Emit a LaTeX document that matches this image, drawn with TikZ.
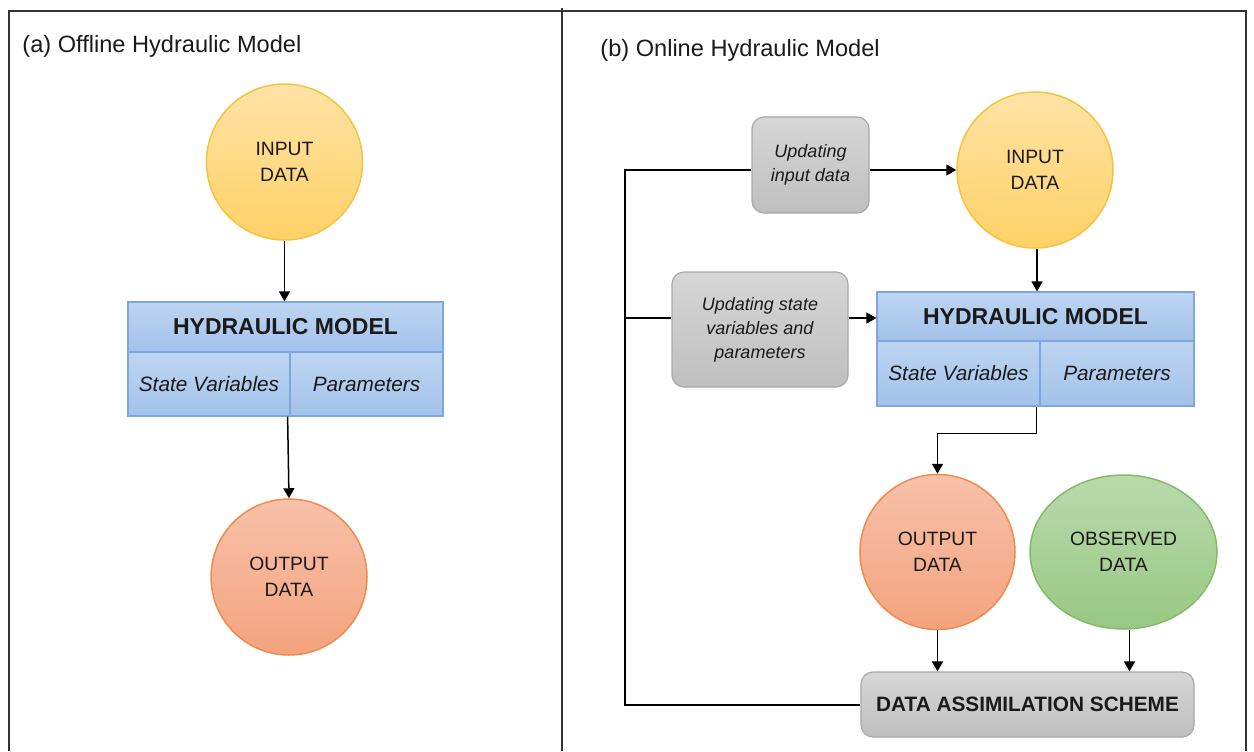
\documentclass[tikz,border=0pt]{standalone}
\usepackage{fontspec}
\setmainfont{Liberation Sans}
\usetikzlibrary{arrows.meta,shapes.geometric}
\definecolor{yTop}{HTML}{FFE3A6}
\definecolor{yBot}{HTML}{FFD166}
\definecolor{yDraw}{HTML}{F5C242}
\definecolor{oTop}{HTML}{F7C1A9}
\definecolor{oBot}{HTML}{F4A37E}
\definecolor{oDraw}{HTML}{EE8B4E}
\definecolor{gTop}{HTML}{B9DAAC}
\definecolor{gBot}{HTML}{98C883}
\definecolor{gDraw}{HTML}{84BA6A}
\definecolor{bTop}{HTML}{BDD5F1}
\definecolor{bBot}{HTML}{A3C2EA}
\definecolor{bDraw}{HTML}{7EA6E0}
\definecolor{kTop}{HTML}{D6D6D6}
\definecolor{kBot}{HTML}{BFBFBF}
\definecolor{kDraw}{HTML}{A8A8A8}
\definecolor{frameC}{HTML}{333333}
\definecolor{txt}{HTML}{1A1A1A}
\begin{document}
\begin{tikzpicture}[x=0.5pt,y=-0.5pt,
  every node/.style={text=txt},
  circ/.style={circle, inner sep=0pt, minimum size=78pt, line width=0.75pt, align=center,
    font=\fontsize{9.65}{13}\selectfont},
  yel/.style={circ, top color=yTop, bottom color=yBot, draw=yDraw},
  ora/.style={circ, top color=oTop, bottom color=oBot, draw=oDraw},
  grn/.style={ellipse, inner sep=0pt, minimum width=93.5pt, minimum height=77pt, line width=0.75pt,
    align=center, font=\fontsize{9.65}{13}\selectfont, top color=gTop, bottom color=gBot, draw=gDraw},
  hmhead/.style={rectangle, inner sep=0pt, minimum height=25pt, line width=0.6pt,
    top color=bTop, bottom color=bBot, draw=bDraw, font=\fontsize{11.5}{13}\selectfont\bfseries},
  hmcell/.style={rectangle, inner sep=0pt, minimum height=32pt, line width=0.6pt,
    top color=bTop, bottom color=bBot, draw=bDraw, font=\fontsize{10.4}{13}\selectfont\itshape},
  upbox/.style={rectangle, rounded corners=6pt, inner sep=0pt, line width=0.6pt, align=center,
    top color=kTop, bottom color=kBot, draw=kDraw, font=\fontsize{9}{12}\selectfont\itshape},
  dasbox/.style={rectangle, rounded corners=6pt, inner sep=0pt, line width=0.6pt,
    top color=kTop, bottom color=kBot, draw=kDraw, font=\fontsize{10.4}{13}\selectfont\bfseries},
  titl/.style={anchor=west, inner sep=0pt, font=\fontsize{11.8}{14}\selectfont},
  arr/.style={-{Triangle[length=5pt,width=5.5pt]}, line width=0.75pt, black},
  ln/.style={line width=0.75pt, black},
  frm/.style={line width=0.8pt, frameC}
]
\useasboundingbox (0,0) rectangle (1254,751);
% frame
\draw[frm] (9,751) -- (9,11) -- (1246,11) -- (1246,751);
\draw[frm] (562,8) -- (562,751);

% titles
\node[titl] (ta) at (22,46) {(a) Offline Hydraulic Model};
\node[titl] (tb) at (600,50) {(b) Online Hydraulic Model};

% ---- panel a
\node[yel] (aIn) at (284.5,162) {INPUT\\DATA};
\node[hmhead, minimum width=157.5pt] (aHM) at (285.5,327) {HYDRAULIC MODEL};
\node[hmcell, minimum width=81pt] (aSV) at (209,384) {State Variables};
\node[hmcell, minimum width=76.5pt] (aPar) at (366.5,384) {Parameters};
\node[ora] (aOut) at (289,577) {OUTPUT\\DATA};

\draw[arr] (aIn.south) -- (aIn.south |- aHM.north);
\draw[arr] ([xshift=-1.5pt]aSV.south east) -- (aOut.north);

% ---- panel b
\node[upbox, minimum width=58.5pt, minimum height=48pt] (bUpIn) at (810.5,165) {Updating\\input data};
\node[upbox, minimum width=88pt, minimum height=57.5pt] (bUpSt) at (760,329.5) {Updating state\\variables and\\parameters};
\node[yel] (bIn) at (1035,170) {INPUT\\DATA};
\node[hmhead, minimum width=158.5pt, minimum height=24.5pt] (bHM) at (1035.5,316.5) {HYDRAULIC MODEL};
\node[hmcell, minimum width=81.5pt, minimum height=32.5pt] (bSV) at (958.5,373.5) {State Variables};
\node[hmcell, minimum width=77pt, minimum height=32.5pt] (bPar) at (1117,373.5) {Parameters};
\node[ora, minimum size=77.5pt] (bOut) at (937.5,552) {OUTPUT\\DATA};
\node[grn] (bObs) at (1123.5,552) {OBSERVED\\DATA};
\node[dasbox, minimum width=166.5pt, minimum height=32.5pt] (bDAS) at (1027.5,704.5) {DATA ASSIMILATION SCHEME};

\coordinate (bL1) at (625,170);
\coordinate (bL2) at (625,318);
\coordinate (bL3) at (625,705);

\draw[ln] (bDAS.west |- bL3) -- (bL3) -- (bL1) -- (bUpIn.west |- bL1);
\draw[arr] (bUpIn.east |- bL1) -- (bIn.west);
\draw[ln] (bL2) -- (bUpSt.west |- bL2);
\draw[arr] (bUpSt.east |- bL2) -- (bHM.west |- bL2);
\draw[arr] ([xshift=1pt]bIn.south) -- ([xshift=1pt]bIn.south |- bHM.north);
\draw[arr] ([xshift=-2pt]bSV.south east) -- ++(0,27) -| (bOut.north);
\draw[arr] (bOut.south) -- (bOut.south |- bDAS.north);
\draw[arr] ([xshift=3pt]bObs.south) -- ([xshift=3pt]bObs.south |- bDAS.north);
\end{tikzpicture}
\end{document}
